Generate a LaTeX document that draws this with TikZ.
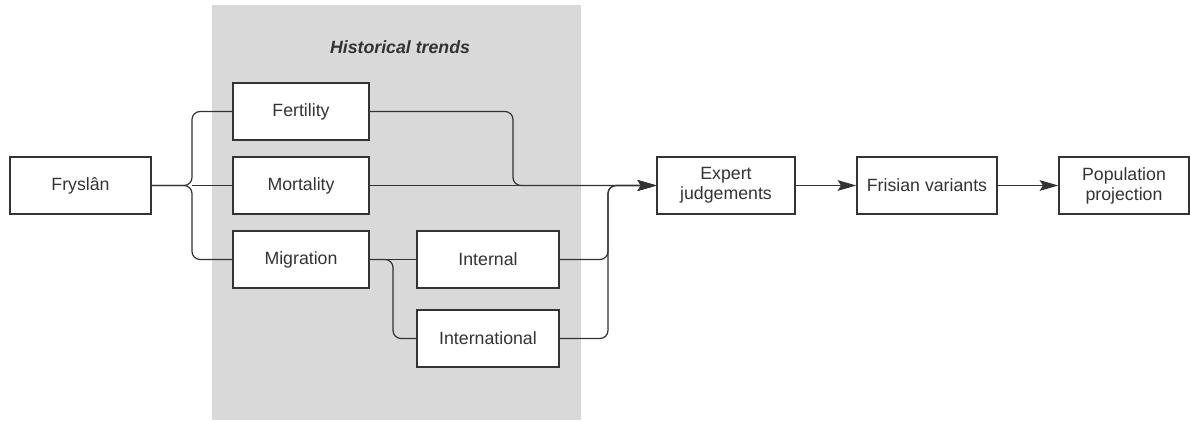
\documentclass[tikz,border=0pt]{standalone}
\usepackage{fontspec}
\setmainfont{Liberation Sans}
\usetikzlibrary{arrows.meta}
\definecolor{bggray}{HTML}{D9D9D9}
\definecolor{ln}{HTML}{333333}
\tikzset{
  box/.style={draw=ln, line width=1pt, fill=white, minimum height=42.75pt, inner sep=2pt, align=center, font=\fontsize{13.3}{15}\selectfont, text=ln},
  conn/.style={draw=ln, line width=0.9pt, rounded corners=6pt},
  arr/.style={conn, -{Stealth[length=14pt,width=8pt,inset=2.5pt]}}
}
\begin{document}
\begin{tikzpicture}[x=0.75pt,y=-0.75pt]
\useasboundingbox (0,0) rectangle (1190,421);
\fill[bggray] (212,5) rectangle (581,420);
\node[font=\bfseries\itshape\fontsize{13.3}{15}\selectfont, text=ln] (title) at (400,47) {Historical trends};
\node[box, minimum width=105.75pt] (fry) at (80.5,185.5) {Fryslân};
\node[box, minimum width=102pt] (fert) at (301,111.5) {Fertility};
\node[box, minimum width=102pt] (mort) at (301,185.5) {Mortality};
\node[box, minimum width=102pt] (mig) at (301,259.5) {Migration};
\node[box, minimum width=106.5pt] (intl) at (488,259.5) {Internal};
\node[box, minimum width=106.5pt] (inter) at (488,338.5) {International};
\node[box, minimum width=103.5pt] (exp) at (726,185.5) {Expert\\judgements};
\node[box, minimum width=105pt] (fris) at (927,185.5) {Frisian variants};
\node[box, minimum width=97.5pt] (pop) at (1124,185.5) {Population\\projection};
\coordinate (br) at (192,185.5);
\coordinate (fk) at (513,185.5);
\coordinate (mk) at (393,259.5);
\coordinate (jk) at (608,185.5);
% brace from Fryslan
\draw[conn] (fry.east) -- (br) |- (fert.west);
\draw[conn] (fry.east) -- (br) |- (mig.west);
\draw[conn] (br) -- (mort.west);
% to expert
\draw[arr] (fert.east) -| (fk) -- (exp.west);
\draw[arr] (mort.east) -- (exp.west);
\draw[conn] (mig.east) -- (intl.west);
\draw[conn] (mig.east) -- (mk) |- (inter.west);
\draw[arr] (intl.east) -| (jk) -- (exp.west);
\draw[arr] (inter.east) -| (jk) -- (exp.west);
\draw[arr] (exp.east) -- (fris.west);
\draw[arr] (fris.east) -- (pop.west);
\end{tikzpicture}
\end{document}
